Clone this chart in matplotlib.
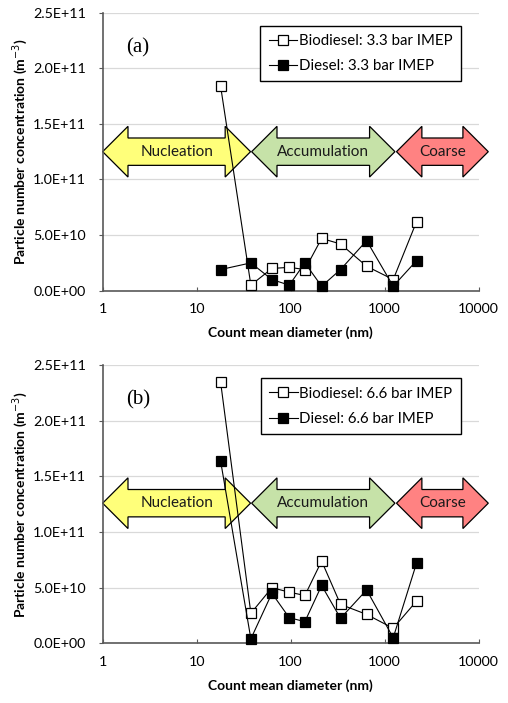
import numpy as np
import matplotlib.pyplot as plt
from matplotlib.patches import Polygon

plt.rcParams['font.family'] = ['Lato', 'DejaVu Sans']

# диаметры (нм)
diam = [18, 37.8, 63.3, 96.8, 142, 214, 340, 644, 1236, 2188]

# (a) 3.3 bar IMEP
bio_a = [1.84e11, 0.05e11, 0.20e11, 0.21e11, 0.19e11, 0.47e11, 0.42e11, 0.22e11, 0.10e11, 0.62e11]
dsl_a = [0.19e11, 0.25e11, 0.10e11, 0.05e11, 0.25e11, 0.04e11, 0.19e11, 0.45e11, 0.04e11, 0.27e11]

# (b) 6.6 bar IMEP
bio_b = [2.35e11, 0.27e11, 0.50e11, 0.46e11, 0.43e11, 0.74e11, 0.35e11, 0.26e11, 0.135e11, 0.38e11]
dsl_b = [1.64e11, 0.04e11, 0.45e11, 0.23e11, 0.195e11, 0.52e11, 0.225e11, 0.48e11, 0.05e11, 0.72e11]

# области размеров частиц
regions = ['Nucleation', 'Accumulation', 'Coarse']
region_start = [1, 38.5, 1340]
region_end = [37.5, 1290, 12700]
region_colors = ['#FFFF7A', '#C6E2A8', '#FF8282']

yticks = [0, 0.5e11, 1.0e11, 1.5e11, 2.0e11, 2.5e11]
ytick_labels = ['0.0E+00', '5.0E+10', '1.0E+11', '1.5E+11', '2.0E+11', '2.5E+11']

fig = plt.figure(figsize=(5.08, 7.03), dpi=100)


def draw_arrow(ax, x0, x1, yc, color, label):
    # двусторонняя стрелка в лог-координатах
    h = 0.27
    a, b = np.log10(x0), np.log10(x1)
    sh, hh = 0.123e11, 0.228e11
    xs = [a, a + h, a + h, b - h, b - h, b, b - h, b - h, a + h, a + h]
    ys = [yc, yc + hh, yc + sh, yc + sh, yc + hh, yc, yc - hh, yc - sh, yc - sh, yc - hh]
    pts = list(zip(10 ** np.array(xs), ys))
    poly = Polygon(pts, closed=True, facecolor=color, edgecolor='black', lw=0.9,
                   zorder=2, clip_on=False)
    ax.add_patch(poly)
    ax.text(10 ** ((a + b) / 2), yc, label, ha='center', va='center', fontsize=11,
            color='#1a1a1a', zorder=3)


def panel(rect, bio, dsl, tag, load, yc):
    ax = fig.add_axes(rect)
    ax.set_xscale('log')
    ax.set_xlim(1, 10000)
    ax.set_ylim(0, 2.5e11)
    ax.set_yticks(yticks)
    ax.set_yticklabels(ytick_labels)
    ax.set_xticks([1, 10, 100, 1000, 10000])
    ax.set_xticklabels(['1', '10', '100', '1000', '10000'])
    ax.minorticks_off()
    ax.tick_params(axis='y', direction='out', length=3, color='#595959', labelsize=10.3, pad=9)
    ax.tick_params(axis='x', direction='in', length=3, color='#595959', labelsize=10.3, pad=9)
    for s in ['top', 'right']:
        ax.spines[s].set_visible(False)
    for s in ['left', 'bottom']:
        ax.spines[s].set_color('#595959')
        ax.spines[s].set_linewidth(1.2)
    ax.grid(True, axis='y', color='#D9D9D9', lw=0.9)
    ax.set_axisbelow(True)

    for name, x0, x1, c in zip(regions, region_start, region_end, region_colors):
        draw_arrow(ax, x0, x1, yc, c, name)

    ax.plot(diam, bio, '-s', color='black', lw=0.8, ms=7, mfc='white', mec='black',
            mew=0.9, zorder=5, label=f'Biodiesel: {load} bar IMEP', clip_on=False)
    ax.plot(diam, dsl, '-s', color='black', lw=0.8, ms=7, mfc='black', mec='black',
            mew=0.9, zorder=5, label=f'Diesel: {load} bar IMEP', clip_on=False)

    leg = ax.legend(loc='upper right', bbox_to_anchor=(0.972, 0.98), fontsize=10.8,
                    frameon=True, fancybox=False, edgecolor='black', framealpha=1,
                    handlelength=1.9, handletextpad=0.1, borderpad=0.55, labelspacing=0.75)
    leg.get_frame().set_linewidth(1.0)

    ax.text(0.094, 0.875, tag, transform=ax.transAxes, fontsize=15,
            family='Liberation Serif', ha='center', va='center')
    ax.set_xlabel('Count mean diameter (nm)', fontsize=10, fontweight='bold', labelpad=8)
    ax.set_ylabel('Particle number concentration (m$^{-3}$)', fontsize=10,
                  fontweight='bold', labelpad=2)
    return ax


panel([0.202, 0.5865, 0.740, 0.3955], bio_a, dsl_a, '(a)', '3.3', 1.25e11)
panel([0.202, 0.0849, 0.740, 0.3955], bio_b, dsl_b, '(b)', '6.6', 1.26e11)

plt.savefig('out.png', dpi=100)
